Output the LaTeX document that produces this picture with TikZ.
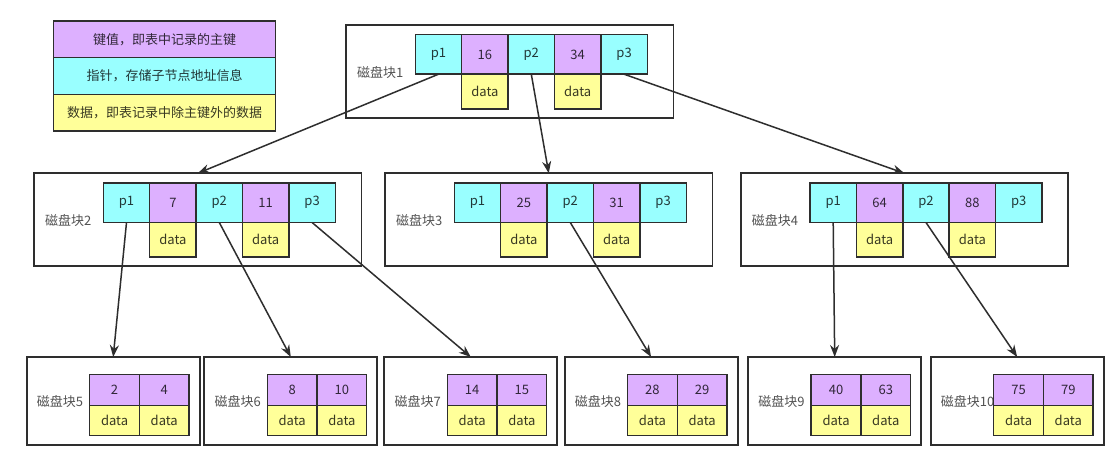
\documentclass[tikz,border=0pt]{standalone}
\usepackage{fontspec}
\newfontfamily\cjk{Noto Sans CJK SC}
\usetikzlibrary{arrows.meta}
\definecolor{keyc}{HTML}{DDB0FF}
\definecolor{ptrc}{HTML}{99FFFF}
\definecolor{datc}{HTML}{FFFF99}
\definecolor{linec}{HTML}{2E2E2E}
\tikzset{
  cell/.style={draw=linec, line width=1.5pt, minimum width=46.4pt, minimum height=39.5pt,
    inner sep=0pt, outer sep=0pt, anchor=north west,
    font=\cjk\fontsize{13}{15}\selectfont, text=black, text opacity=0.78},
  keycell/.style={cell, fill=keyc},
  ptrcell/.style={cell, fill=ptrc},
  datcell/.style={cell, fill=datc, minimum height=34.7pt},
  leafkey/.style={keycell, minimum width=49.7pt, minimum height=30.6pt},
  leafdat/.style={datcell, minimum width=49.7pt, minimum height=30.4pt},
  blockbox/.style={draw=linec, line width=1.8pt, fill=white, anchor=north west,
    inner sep=0pt, outer sep=0pt},
  blocklabel/.style={anchor=west, font=\cjk\fontsize{13}{15}\selectfont, text=black!68, inner sep=0pt},
  link/.style={draw=linec, line width=1.5pt, -{Stealth[length=12pt,width=9pt]}},
  legendrow/.style={draw=linec, line width=1.5pt, minimum width=222.4pt, minimum height=36.7pt,
    anchor=north west, inner sep=0pt, outer sep=0pt,
    font=\cjk\fontsize{13}{15}\selectfont, text=black, text opacity=0.78},
}
% inner block: name, left, top, label, key1, key2
\newcommand\innerblk[6]{%
  \node[blockbox, minimum width=327.5pt, minimum height=93pt] (#1) at (#2,#3) {};
  \node[blocklabel] (#1lab) at ({#2+11},{#3+47.5}) {#4};
  \node[ptrcell] (#1p1) at ({#2+69.3},{#3+9.7}) {p1};
  \node[keycell] (#1k1) at (#1p1.north east) {#5};
  \node[ptrcell] (#1p2) at (#1k1.north east) {p2};
  \node[keycell] (#1k2) at (#1p2.north east) {#6};
  \node[ptrcell] (#1p3) at (#1k2.north east) {p3};
  \node[datcell] (#1d1) at (#1k1.south west) {data};
  \node[datcell] (#1d2) at (#1k2.south west) {data};
}
% leaf block: name, left, label, key1, key2
\newcommand\leafblk[5]{%
  \node[blockbox, minimum width=173pt, minimum height=88pt] (#1) at (#2,357) {};
  \node[blocklabel] (#1lab) at ({#2+10},402) {#3};
  \node[leafkey] (#1k1) at ({#2+63},374.7) {#4};
  \node[leafkey] (#1k2) at (#1k1.north east) {#5};
  \node[leafdat] (#1d1) at (#1k1.south west) {data};
  \node[leafdat] (#1d2) at (#1k2.south west) {data};
}
\begin{document}
\begin{tikzpicture}[x=1pt,y=-1pt]
  \fill[white] (0,0) rectangle (1118,463);
  \useasboundingbox (0,0) rectangle (1118,463);
  % legend
  \node[legendrow, fill=keyc] (lg1) at (53.3,21) {键值，即表中记录的主键};
  \node[legendrow, fill=ptrc] (lg2) at (lg1.south west) {指针，存储子节点地址信息};
  \node[legendrow, fill=datc] (lg3) at (lg2.south west) {数据，即表记录中除主键外的数据};
  % blocks
  \innerblk{b1}{346}{25}{磁盘块1}{16}{34}
  \innerblk{b2}{34}{173.3}{磁盘块2}{7}{11}
  \innerblk{b3}{385}{173.3}{磁盘块3}{25}{31}
  \innerblk{b4}{740.7}{173.3}{磁盘块4}{64}{88}
  \leafblk{b5}{26.7}{磁盘块5}{2}{4}
  \leafblk{b6}{204.3}{磁盘块6}{8}{10}
  \leafblk{b7}{384.3}{磁盘块7}{14}{15}
  \leafblk{b8}{564.6}{磁盘块8}{28}{29}
  \leafblk{b9}{748.2}{磁盘块9}{40}{63}
  \leafblk{b10}{930.7}{磁盘块10}{75}{79}
  % links
  \draw[link] (b1p1.south) -- (b2.north);
  \draw[link] (b1p2.south) -- (b3.north);
  \draw[link] (b1p3.south) -- (b4.north);
  \draw[link] (b2p1.south) -- (b5.north);
  \draw[link] (b2p2.south) -- (b6.north);
  \draw[link] (b2p3.south) -- (b7.north);
  \draw[link] (b3p2.south) -- (b8.north);
  \draw[link] (b4p1.south) -- (b9.north);
  \draw[link] (b4p2.south) -- (b10.north);
\end{tikzpicture}
\end{document}
